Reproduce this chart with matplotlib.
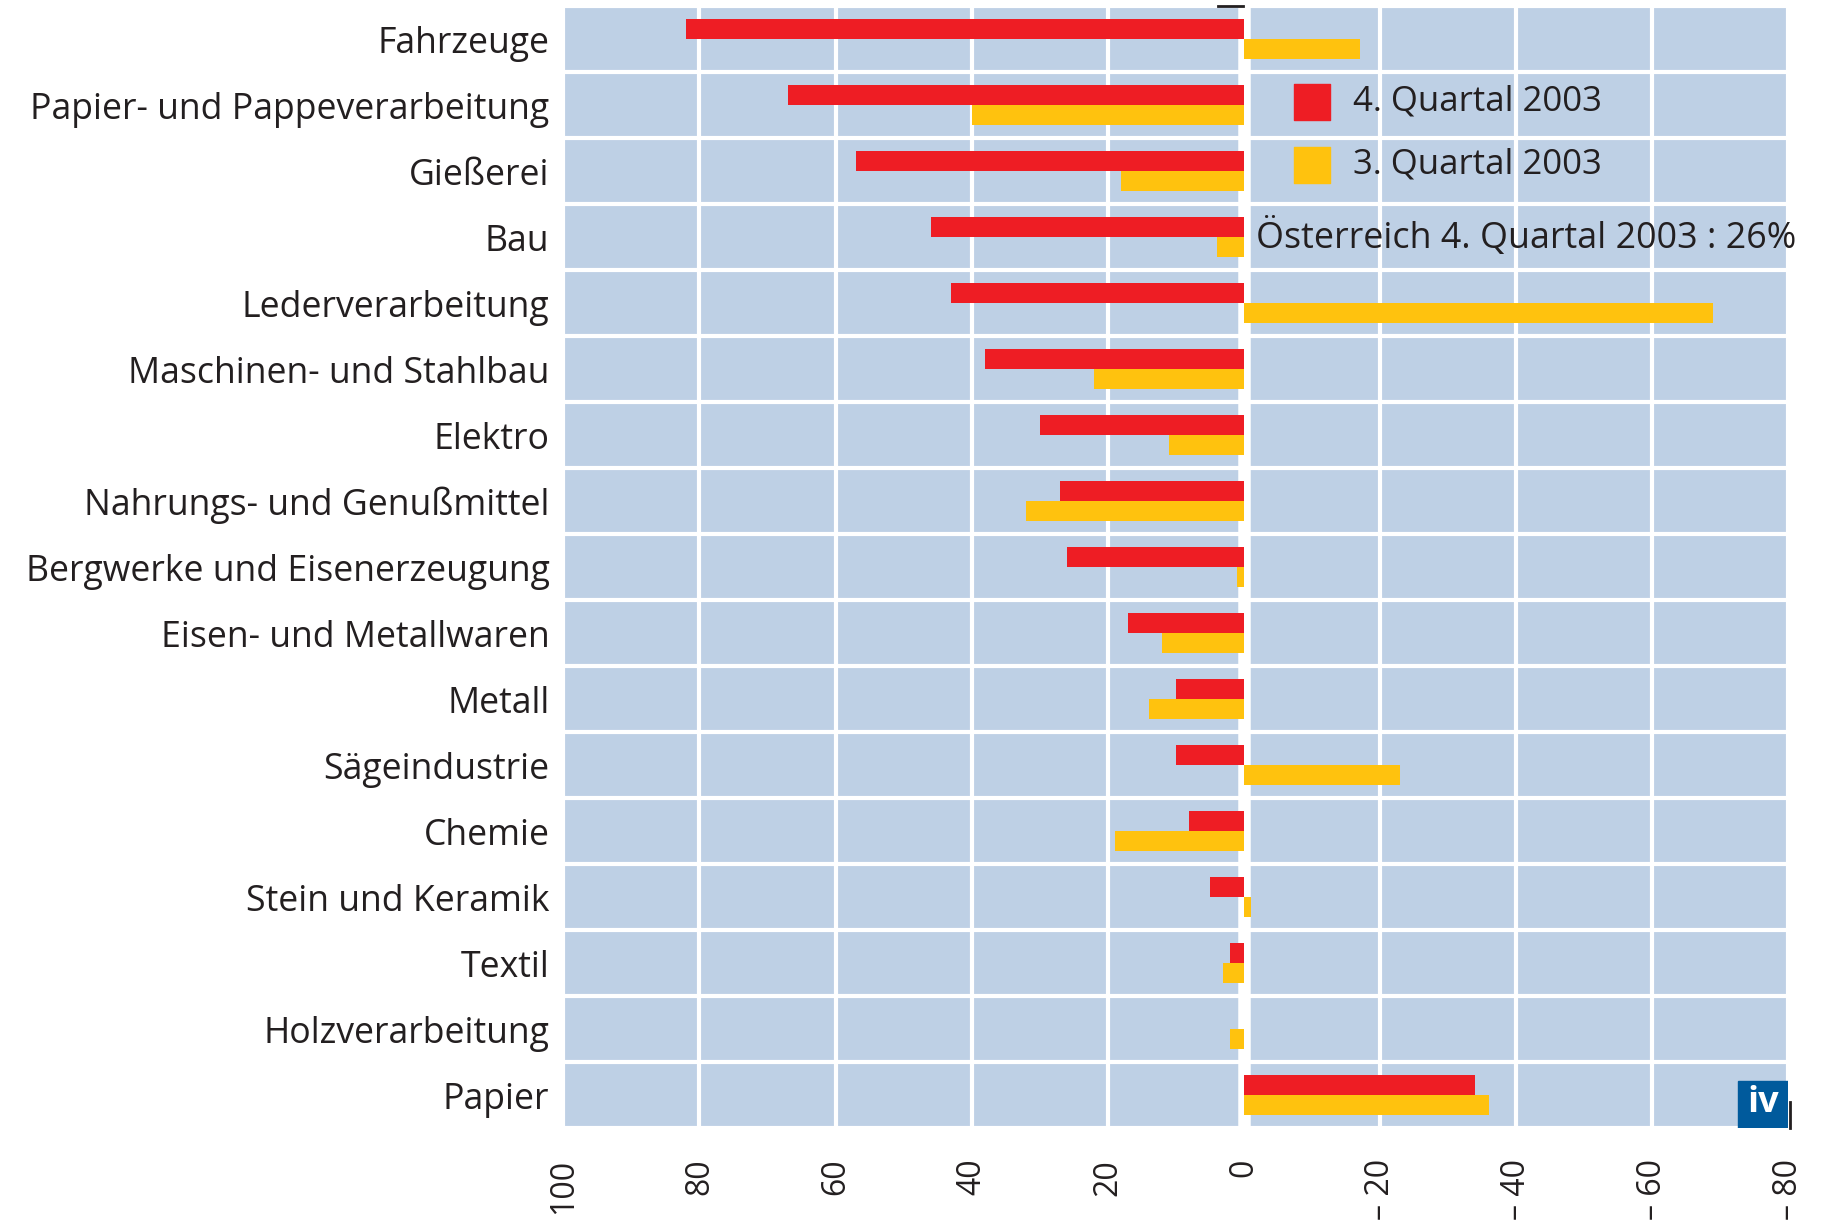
import matplotlib
matplotlib.use("Agg")
import matplotlib.pyplot as plt
from matplotlib.patches import Rectangle
import numpy as np

plt.rcParams['font.family'] = ['Open Sans', 'DejaVu Sans']

categories = ["Fahrzeuge", "Papier- und Pappeverarbeitung", "Gießerei", "Bau",
              "Lederverarbeitung", "Maschinen- und Stahlbau", "Elektro",
              "Nahrungs- und Genußmittel", "Bergwerke und Eisenerzeugung",
              "Eisen- und Metallwaren", "Metall", "Sägeindustrie", "Chemie",
              "Stein und Keramik", "Textil", "Holzverarbeitung", "Papier"]
q4_2003 = [82, 67, 57, 46, 43, 38, 30, 27, 26, 17, 10, 10, 8, 5, 2, 0, -34]
q3_2003 = [-17, 40, 18, 4, -69, 22, 11, 32, 1, 12, 14, -23, 19, -1, 3, 2, -36]
ticks = [100, 80, 60, 40, 20, 0, -20, -40, -60, -80]
tick_labels = ["100", "80", "60", "40", "20", "0", "– 20", "– 40", "– 60", "– 80"]

RED = "#EE1D24"
YELLOW = "#FFC20E"
BG = "#BED0E5"
TXT = "#231F20"

fig = plt.figure(figsize=(18.23, 12.21), dpi=100)
ax = fig.add_axes([0.309, 0.076, 0.672, 0.919])
ax.set_facecolor(BG)

y = np.arange(len(categories))
h = 0.3
ax.barh(y - h / 2, q4_2003, height=h, color=RED, zorder=3)
ax.barh(y + h / 2, q3_2003, height=h, color=YELLOW, zorder=3)

ax.set_xlim(100, -80)
ax.set_ylim(len(categories) - 0.5, -0.5)

for t in ticks:
    ax.axvline(t, color="white", lw=9 if t == 0 else 3, zorder=2)
for b in np.arange(len(categories) + 1) - 0.5:
    ax.axhline(b, color="white", lw=3, zorder=2)

ax.set_yticks(y)
ax.set_yticklabels(categories, fontsize=25.7, color=TXT)
ax.set_xticks(ticks)
ax.set_xticklabels(tick_labels, rotation=90, fontsize=23, color=TXT, va="top")
ax.tick_params(length=0, pad=10)
ax.tick_params(axis="x", pad=22)
for s in ax.spines.values():
    s.set_visible(False)

# legend
ax.scatter([-10], [0.95], marker="s", s=700, color=RED, zorder=4)
ax.scatter([-10], [1.9], marker="s", s=700, color=YELLOW, zorder=4)
ax.text(-16, 0.95, "4. Quartal 2003", fontsize=25, va="center", color=TXT, zorder=4)
ax.text(-16, 1.9, "3. Quartal 2003", fontsize=25, va="center", color=TXT, zorder=4)
ax.text(-1.8, 3.0, "Österreich 4. Quartal 2003 : 26%", fontsize=25.8, va="center",
        color=TXT, zorder=4)

# logo
ax.add_patch(Rectangle((-80, 15.78), 7.4, 0.72, color="#005A9C", zorder=5))
ax.text(-76.3, 16.12, "iv", fontsize=26, fontweight="bold", color="white",
        ha="center", va="center", zorder=6)

# small black marks from the original print
ax.plot([-80.3, -80.3], [16.1, 16.5], color=TXT, lw=2, clip_on=False, zorder=6)
ax.plot([3.8, 0.2], [-0.5, -0.5], color=TXT, lw=2, clip_on=False, zorder=6)

fig.savefig("out.png", dpi=100)
